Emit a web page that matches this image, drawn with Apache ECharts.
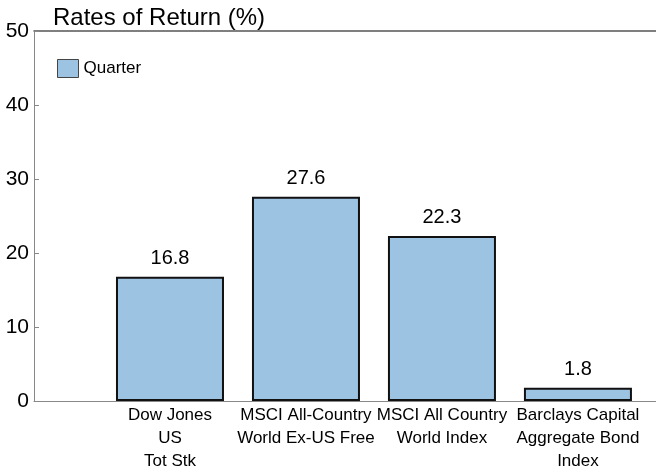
<!DOCTYPE html>
<html>
<head>
<meta charset="utf-8">
<script src="https://cdn.jsdelivr.net/npm/echarts@6/dist/echarts.min.js"></script>
<style>
  html, body { margin: 0; padding: 0; background: #fff; }
  #chart { width: 656px; height: 473px; }
</style>
</head>
<body>
<div id="chart"></div>
<script>
// funds on the x axis (slot 0 is left empty like the original)
var categories = ['', 'Dow Jones\nUS\nTot Stk', 'MSCI All-Country\nWorld Ex-US Free', 'MSCI All Country\nWorld Index', 'Barclays Capital\nAggregate Bond\nIndex'];
var quarter = [16.8, 27.6, 22.3, 1.8];
var yTicks = [0, 10, 20, 30, 40, 50];

var font = "'Liberation Sans', Arial, sans-serif";
var barColor = '#9dc3e3';

var barData = [];
for (var i = 0; i < quarter.length; i++) {
  barData.push([i + 1, quarter[i]]);
}

var myChart = echarts.init(document.getElementById('chart'));
var option = {
  animation: false,
  title: {
    text: 'Rates of Return (%)',
    left: 48, top: 1,
    textStyle: { fontFamily: font, fontSize: 24, fontWeight: 'normal', color: '#000' }
  },
  legend: {
    left: 52, top: 54,
    icon: 'rect',
    itemWidth: 21, itemHeight: 18, itemGap: 8,
    textStyle: { fontFamily: font, fontSize: 17, color: '#000' },
    data: [{ name: 'Quarter', itemStyle: { color: barColor, borderColor: '#444', borderWidth: 1 } }]
  },
  grid: { left: 34, right: 0, top: 31, bottom: 72 },
  xAxis: [{
    type: 'value',
    min: 0, max: 4.574, interval: 1,
    splitLine: { show: false },
    axisTick: { show: false },
    axisLine: { show: true, onZero: false, lineStyle: { color: '#888', width: 1 } },
    axisLabel: {
      margin: 3, fontFamily: font, fontSize: 17, color: '#000', lineHeight: 23,
      showMaxLabel: false, showMinLabel: false,
      formatter: function (v) { return Number.isInteger(v) ? (categories[v] || '') : ''; }
    }
  }, {
    type: 'value', position: 'top',
    min: 0, max: 4.574,
    splitLine: { show: false }, axisTick: { show: false }, axisLabel: { show: false },
    axisLine: { show: true, onZero: false, lineStyle: { color: '#555', width: 1.5 } }
  }],
  yAxis: {
    type: 'value',
    min: yTicks[0], max: yTicks[yTicks.length - 1], interval: 10,
    splitLine: { show: false },
    axisLine: { show: true, lineStyle: { color: '#888', width: 1 } },
    axisTick: { show: true, inside: true, length: 5, lineStyle: { color: '#888' } },
    axisLabel: { margin: 5, fontFamily: font, fontSize: 21, color: '#000' }
  },
  series: [{
    name: 'Quarter',
    type: 'bar',
    data: barData,
    barWidth: 108,
    itemStyle: { color: barColor, borderColor: '#111', borderWidth: 2 },
    label: {
      show: true, position: 'top', distance: 8,
      fontFamily: font, fontSize: 20, color: '#000',
      formatter: function (p) { return p.value[1].toFixed(1); }
    }
  }]
};
myChart.setOption(option);
</script>
</body>
</html>
